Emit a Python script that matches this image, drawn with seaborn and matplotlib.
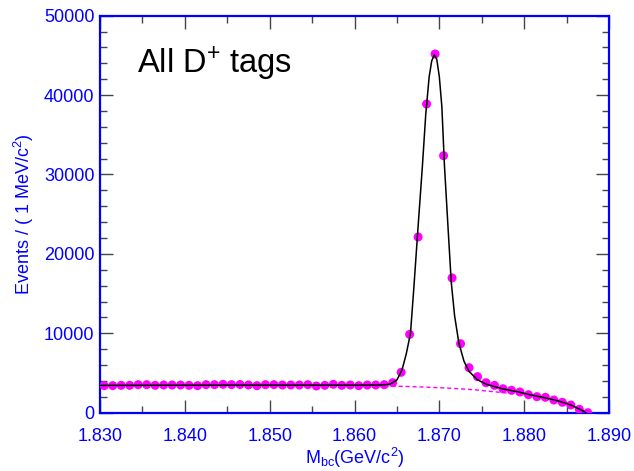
import numpy as np
import pandas as pd
import matplotlib
matplotlib.use("Agg")
import matplotlib.pyplot as plt
from matplotlib.ticker import MultipleLocator, FormatStrFormatter
import seaborn as sns

# ---- data ----
bin_centers = [
    1.8305, 1.8315, 1.8325, 1.8335, 1.8345, 1.8355, 1.8365, 1.8375, 1.8385, 1.8395,
    1.8405, 1.8415, 1.8425, 1.8435, 1.8445, 1.8455, 1.8465, 1.8475, 1.8485, 1.8495,
    1.8505, 1.8515, 1.8525, 1.8535, 1.8545, 1.8555, 1.8565, 1.8575, 1.8585, 1.8595,
    1.8605, 1.8615, 1.8625, 1.8635, 1.8645, 1.8655, 1.8665, 1.8675, 1.8685, 1.8695,
    1.8705, 1.8715, 1.8725, 1.8735, 1.8745, 1.8755, 1.8765, 1.8775, 1.8785, 1.8795,
    1.8805, 1.8815, 1.8825, 1.8835, 1.8845, 1.8855, 1.8865, 1.8875]
events = [
    3405, 3405, 3447, 3447, 3531, 3531, 3447, 3489, 3489, 3489,
    3447, 3405, 3531, 3531, 3573, 3531, 3550, 3489, 3405, 3531,
    3531, 3489, 3489, 3489, 3531, 3363, 3447, 3573, 3447, 3489,
    3405, 3489, 3489, 3531, 3780, 5090, 9870, 22130, 38880, 45180,
    32370, 16970, 8690, 5670, 4540, 3780, 3440, 3020, 2820, 2610,
    2270, 2020, 1940, 1600, 1310, 970, 430, 0]

fit_x = [1.8300, 1.8350, 1.8400, 1.8450, 1.8500, 1.8550, 1.8600, 1.8625, 1.8635,
         1.8642, 1.8650, 1.8656, 1.8661, 1.8666, 1.8670, 1.8675, 1.8680, 1.8684,
         1.8688, 1.8691, 1.8694, 1.8697, 1.8700, 1.8703, 1.8706, 1.8710, 1.8714,
         1.8718, 1.8723, 1.8729, 1.8735, 1.8745, 1.8755, 1.8765, 1.8775, 1.8785,
         1.8795, 1.8805, 1.8815, 1.8825, 1.8835, 1.8845, 1.8855, 1.8862, 1.8868,
         1.8873]
fit_y = [3440, 3450, 3460, 3470, 3470, 3470, 3470, 3480, 3510,
         3610, 4120, 5380, 7400, 10000, 15800, 23500, 31000, 37600,
         42300, 44300, 45060, 44500, 42300, 38500, 31200, 23800, 16500,
         12200, 8800, 6500, 5200, 4150, 3600, 3280, 3000, 2790,
         2570, 2310, 2080, 1870, 1620, 1330, 960, 620, 300,
         0]

bkg_x = [1.8300, 1.8400, 1.8500, 1.8600, 1.8645, 1.8680, 1.8710, 1.8740, 1.8776,
         1.8800, 1.8820, 1.8840, 1.8855, 1.8865, 1.8873]
bkg_y = [3440, 3460, 3470, 3450, 3360, 3240, 3100, 2900, 2520,
         2250, 1960, 1560, 1150, 700, 0]

df_pts = pd.DataFrame({"m": bin_centers, "n": events})
df_fit = pd.DataFrame({"m": fit_x, "n": fit_y})
df_bkg = pd.DataFrame({"m": bkg_x, "n": bkg_y})

sns.set_style("ticks")
plt.rcParams["font.family"] = ["Liberation Sans", "DejaVu Sans"]
plt.rcParams["mathtext.fontset"] = "custom"
plt.rcParams["mathtext.rm"] = "Liberation Sans"
plt.rcParams["mathtext.it"] = "Liberation Sans"

blue = "#0000FF"
magenta = "#FF00FF"
grey = "#444444"

fig = plt.figure(figsize=(6.34, 4.71), dpi=100)
ax = fig.add_axes([100/634, 1-412.7/471, 509/634, 397/471])

sns.lineplot(data=df_bkg, x="m", y="n", ax=ax, color=magenta, lw=1.0,
             linestyle=(0, (3, 2)), estimator=None, sort=False, zorder=2)
sns.scatterplot(data=df_pts, x="m", y="n", ax=ax, color=magenta, s=42,
                edgecolor="none", linewidth=0, zorder=3)
sns.lineplot(data=df_fit, x="m", y="n", ax=ax, color="black", lw=1.1,
             estimator=None, sort=False, zorder=4)

ax.set_xlim(1.830, 1.890)
ax.set_ylim(0, 50000)
ax.xaxis.set_major_locator(MultipleLocator(0.010))
ax.xaxis.set_minor_locator(MultipleLocator(0.005))
ax.xaxis.set_major_formatter(FormatStrFormatter("%.3f"))
ax.yaxis.set_major_locator(MultipleLocator(10000))
ax.yaxis.set_minor_locator(MultipleLocator(2000))

for sp in ax.spines.values():
    sp.set_color(blue)
    sp.set_linewidth(1.6)

ax.tick_params(which="both", direction="in", top=True, right=True,
               labelsize=13, labelcolor=blue, color=grey, width=1.0)
ax.tick_params(which="major", length=9.5)
ax.tick_params(which="minor", length=5)
ax.tick_params(axis="x", which="both", bottom=True, pad=11)
ax.tick_params(axis="y", which="both", pad=4)
for t in ax.xaxis.get_ticklines(minor=False)[::2] + ax.xaxis.get_ticklines(minor=True)[::2]:
    t.set_color(blue)
for t in ax.yaxis.get_ticklines(minor=False)[::2] + ax.yaxis.get_ticklines(minor=True)[::2]:
    t.set_color(blue)

ax.set_xlabel(r"M$_{\mathrm{bc}}$(GeV/c$^{2}$)", color=blue, fontsize=13, labelpad=1)
ax.set_ylabel(r"Events / ( 1 MeV/c$^{2}$)", color=blue, fontsize=13, labelpad=6)

ax.text(0.0727, 0.856, r"All D$^{+}$ tags", transform=ax.transAxes,
        fontsize=23.5, color="black", va="baseline", ha="left")

fig.savefig("out.png", dpi=100)
